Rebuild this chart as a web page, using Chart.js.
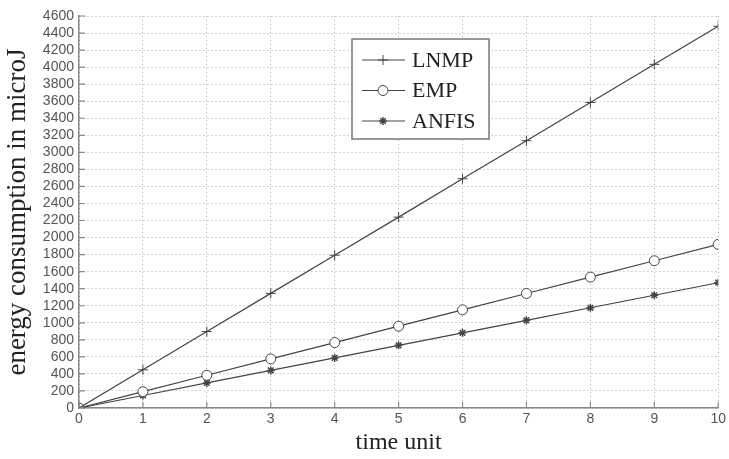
<!DOCTYPE html>
<html>
<head>
<meta charset="utf-8">
<script src="https://cdn.jsdelivr.net/npm/chart.js@4/dist/chart.umd.min.js"></script>
<style>
  html, body { margin: 0; padding: 0; background: #fff; }
  #wrap { width: 729px; height: 459px; }
</style>
</head>
<body>
<div id="wrap"><canvas id="chart" width="729" height="459"></canvas></div>
<script>
const timeUnits = [0, 1, 2, 3, 4, 5, 6, 7, 8, 9, 10];
const lnmp = [0, 448, 897, 1345, 1793, 2240, 2690, 3137, 3585, 4033, 4480];
const emp = [0, 192, 384, 576, 768, 960, 1152, 1344, 1536, 1728, 1920];
const anfis = [0, 147, 294, 441, 588, 735, 882, 1029, 1176, 1323, 1470];

const lineColor = "#444";
const gridColor = "#aaa";
const axisColor = "#888";
const tickFont = { family: "'Liberation Sans', Arial, sans-serif", size: 14 };

const toPoints = arr => arr.map((v, i) => ({ x: timeUnits[i], y: v }));

// legend box drawn in the style of the matlab figure
const boxLegend = {
    id: "boxLegend",
    afterDraw(chart) {
        const ctx = chart.ctx;
        const x0 = 352, y0 = 39, w = 137, h = 100;
        ctx.save();
        ctx.fillStyle = "#fff";
        ctx.fillRect(x0, y0, w, h);
        ctx.strokeStyle = "#777";
        ctx.lineWidth = 1.5;
        ctx.strokeRect(x0, y0, w, h);
        ctx.font = "22px 'Liberation Serif', 'DejaVu Serif', serif";
        ctx.textBaseline = "middle";
        chart.data.datasets.forEach((ds, i) => {
            const y = y0 + 21 + i * 30.5;
            ctx.strokeStyle = lineColor;
            ctx.lineWidth = 1;
            ctx.beginPath();
            ctx.moveTo(x0 + 10, y);
            ctx.lineTo(x0 + 53, y);
            ctx.stroke();
            if (ds.pointStyle === "circle") {
                ctx.fillStyle = "#fff";
                ctx.beginPath();
                ctx.arc(x0 + 31, y, ds.pointRadius, 0, Math.PI * 2);
                ctx.fill();
                ctx.stroke();
            } else {
                ctx.lineWidth = ds.pointBorderWidth;
                Chart.helpers.drawPoint(ctx, {
                    pointStyle: ds.pointStyle,
                    radius: ds.pointRadius,
                    borderWidth: ds.pointBorderWidth
                }, x0 + 31, y);
            }
            ctx.fillStyle = "#222";
            ctx.fillText(ds.label, x0 + 60, y + 1);
        });
        ctx.restore();
    }
};

// short inward tick marks on both axes
const innerTicks = {
    id: "innerTicks",
    afterDatasetsDraw(chart) {
        const { ctx, chartArea, scales } = chart;
        ctx.save();
        ctx.strokeStyle = axisColor;
        ctx.lineWidth = 1.2;
        ctx.beginPath();
        scales.x.ticks.forEach(t => {
            const px = scales.x.getPixelForValue(t.value);
            ctx.moveTo(px, chartArea.bottom);
            ctx.lineTo(px, chartArea.bottom - 6);
        });
        scales.y.ticks.forEach(t => {
            const py = scales.y.getPixelForValue(t.value);
            ctx.moveTo(chartArea.left, py);
            ctx.lineTo(chartArea.left + 6, py);
        });
        ctx.stroke();
        ctx.restore();
    }
};

new Chart(document.getElementById("chart"), {
    type: "line",
    data: {
        datasets: [
            {
                label: "LNMP",
                data: toPoints(lnmp),
                borderColor: lineColor,
                borderWidth: 1.2,
                pointStyle: "cross",
                pointRadius: 5,
                pointBorderWidth: 1,
                pointBorderColor: lineColor,
                pointBackgroundColor: lineColor
            },
            {
                label: "EMP",
                data: toPoints(emp),
                borderColor: lineColor,
                borderWidth: 1.2,
                pointStyle: "circle",
                pointRadius: 5,
                pointBorderWidth: 1,
                pointBorderColor: lineColor,
                pointBackgroundColor: "#fff"
            },
            {
                label: "ANFIS",
                data: toPoints(anfis),
                borderColor: lineColor,
                borderWidth: 1.2,
                pointStyle: "star",
                pointRadius: 4,
                pointBorderWidth: 1.5,
                pointBorderColor: lineColor,
                pointBackgroundColor: lineColor
            }
        ]
    },
    options: {
        responsive: false,
        animation: false,
        layout: { padding: { top: 16, right: 7, left: 0, bottom: 0 } },
        plugins: { legend: { display: false }, tooltip: { enabled: false } },
        scales: {
            x: {
                type: "linear",
                min: 0,
                max: 10,
                afterFit: s => { s.height = 51; },
                ticks: {
                    stepSize: 1,
                    autoSkip: false,
                    padding: 3,
                    color: "#555",
                    font: tickFont
                },
                grid: { color: gridColor, drawTicks: false },
                border: { display: true, color: axisColor, width: 1.5, dash: [1, 3] },
                title: {
                    display: true,
                    text: "time unit",
                    color: "#222",
                    padding: { top: 0, bottom: 2 },
                    font: { family: "'Liberation Serif', serif", size: 24 }
                }
            },
            y: {
                min: 0,
                max: 4600,
                afterFit: s => { s.width = 79; },
                ticks: {
                    stepSize: 200,
                    autoSkip: false,
                    padding: 5,
                    color: "#555",
                    font: tickFont,
                    callback: v => String(v)
                },
                grid: { color: gridColor, drawTicks: false },
                border: { display: true, color: axisColor, width: 1.5, dash: [1, 3] },
                title: {
                    display: true,
                    text: "energy consumption in microJ",
                    color: "#222",
                    padding: { top: 2, bottom: 0 },
                    font: { family: "'Liberation Serif', serif", size: 27 }
                }
            }
        }
    },
    plugins: [innerTicks, boxLegend]
});
</script>
</body>
</html>
